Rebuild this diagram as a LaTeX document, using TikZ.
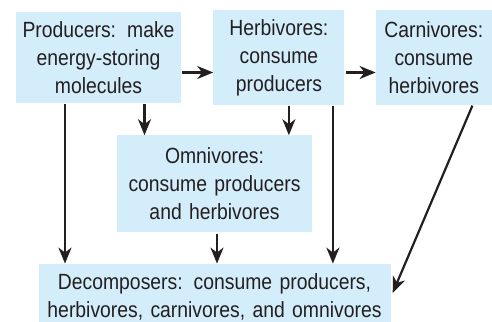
\documentclass[tikz,border=0pt]{standalone}
\usepackage{fontspec}
\setmainfont[FakeStretch=0.88]{Liberation Sans}
\usetikzlibrary{arrows.meta,positioning}
\definecolor{boxblue}{RGB}{212,237,250}
\definecolor{inkgray}{RGB}{35,31,32}

\begin{document}
\begin{tikzpicture}[
  >=Stealth,
  node distance=32pt and 32pt,
  box/.style={fill=boxblue,inner sep=0pt,align=center,text=inkgray,
    font=\fontsize{22}{28}\selectfont},
  every edge/.style={draw=inkgray,line width=2.2pt,shorten <=1pt,
    -{Stealth[length=16pt,width=13pt,inset=5pt]}}
]
\useasboundingbox (0,0) rectangle (492pt,-321pt);

\node[box,minimum width=165pt,minimum height=91pt,text width=160pt] (prod) at (98.5pt,-57.5pt)
  {Producers: make\\energy-storing\\molecules};
\node[box,minimum width=131pt,minimum height=94pt,text width=126pt] (herb) [right=32pt of prod]
  {Herbivores:\\consume\\producers};
\node[box,minimum width=116pt,minimum height=94pt,text width=112pt] (carn) [right=31pt of herb]
  {Carnivores:\\consume\\herbivores};

\node[box,minimum width=195pt,minimum height=97pt,text width=190pt] (omni) [below=32pt of prod, xshift=116pt]
  {Omnivores:\\consume producers\\and herbivores};
\node[box,minimum width=352pt,minimum height=66pt,text width=348pt] (decomp) [below=31pt of omni]
  {Decomposers: consume producers,\\herbivores, carnivores, and omnivores};

\draw ([yshift=-15pt]prod.east) edge ([yshift=-15pt]herb.west);
\draw ([yshift=-15pt]herb.east) edge ([yshift=-15pt]carn.west);

\draw ([xshift=46pt]prod.south) edge ([xshift=46pt]prod.south |- omni.north);
\draw ([xshift=10pt]herb.south) edge ([xshift=10pt]herb.south |- omni.north);

\draw ([xshift=-33.5pt]prod.south) edge ([xshift=-33.5pt]prod.south |- decomp.north);
\draw ([xshift=54pt]herb.south) edge ([xshift=54pt]herb.south |- decomp.north);
\draw ([xshift=2.5pt]omni.south) edge ([xshift=2.5pt]decomp.north);
\draw ([xshift=39pt]carn.south) edge ([xshift=2pt,yshift=4pt]decomp.east);
\end{tikzpicture}
\end{document}
